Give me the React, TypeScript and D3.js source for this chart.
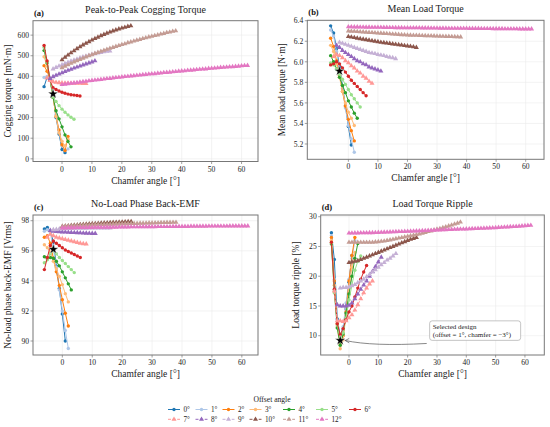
import React from 'react';
import * as d3 from 'd3';

// offset angle of each series, first chamfer angle (1° steps after that)
const offsets = [0, 1, 2, 3, 4, 5, 6, 7, 8, 9, 10, 11, 12];
const chamferStart = [-6, -6, -6, -6, -6, -6, -6, -5, -4, -3, 0, 0, 0];
const colors = [
  '#1f77b4', '#aec7e8', '#ff7f0e', '#ffbb78', '#2ca02c', '#98df8a', '#d62728',
  '#ff9896', '#9467bd', '#c5b0d5', '#8c564b', '#c49c94', '#e377c2',
];
const selectedOffset = 1;
const selectedChamfer = -3;

// (a) peak-to-peak cogging torque [mN·m]
const cogging = [
  [350, 395, 385, 310, 200, 120, 45, 30],
  [395, 400, 388, 315, 215, 130, 62, 40, 48],
  [452, 425, 385, 300, 205, 140, 68, 40, 108],
  [495, 450, 382, 300, 205, 125, 85, 62, 95],
  [525, 465, 385, 298, 233, 194, 155, 116, 84, 58],
  [540, 470, 390, 300, 278, 258, 241, 226, 213, 202, 192],
  [550, 475, 380, 345, 336, 329, 323, 318, 314, 311, 309, 307, 305],
  [392, 380, 374, 371, 369, 368, 367, 367, 366, 366, 366, 366, 365, 365],
  [390, 398, 405, 411, 417, 423, 429, 434, 440, 445, 450, 455, 460, 465, 470, 475],
  [436, 443, 450, 456, 462, 468, 474, 479, 484, 489, 494, 498, 502, 506, 510, 513, 516, 519, 521, 523],
  [480, 492, 503, 514, 524, 534, 543, 552, 560, 568, 576, 583, 590, 597, 603, 609, 615, 620, 625, 630,
    634, 638, 642, 645],
  [442, 449, 456, 463, 470, 476, 482, 488, 494, 500, 505, 511, 516, 521, 526, 531, 536, 540, 545, 549,
    554, 558, 563, 567, 571, 575, 579, 583, 587, 591, 594, 598, 601, 605, 608, 612, 615, 618, 621],
  [360, 362, 364, 366, 368, 370, 372, 374, 376, 378, 380, 382, 383, 385, 387, 389, 390, 392, 394, 395,
    397, 399, 400, 402, 403, 405, 406, 408, 409, 411, 412, 413, 415, 416, 418, 419, 420, 422, 423, 425,
    426, 427, 429, 430, 431, 433, 434, 435, 436, 438, 439, 440, 441, 443, 444, 445, 446, 447, 448, 449,
    451, 452, 453],
];

// (b) mean load torque [N·m]
const meanTorque = [
  [6.35, 6.28, 6.13, 5.95, 5.77, 5.57, 5.37, 5.19],
  [6.31, 6.25, 6.10, 5.91, 5.74, 5.55, 5.38, 5.25, 5.12],
  [6.23, 6.15, 6.01, 5.87, 5.71, 5.57, 5.44, 5.33, 5.23],
  [6.16, 6.10, 5.98, 5.85, 5.71, 5.60, 5.51, 5.45, 5.38],
  [6.06, 6.00, 5.93, 5.85, 5.77, 5.70, 5.62, 5.56, 5.50, 5.45],
  [5.99, 5.97, 5.93, 5.88, 5.83, 5.78, 5.73, 5.68, 5.64, 5.60, 5.56],
  [5.97, 5.98, 6.00, 5.98, 5.94, 5.90, 5.86, 5.82, 5.79, 5.76, 5.73, 5.70, 5.67],
  [6.05, 6.07, 6.06, 6.04, 6.01, 5.99, 5.96, 5.94, 5.91, 5.89, 5.86, 5.84, 5.81, 5.79],
  [6.16, 6.14, 6.11, 6.09, 6.07, 6.05, 6.03, 6.01, 6.00, 5.98, 5.97, 5.95, 5.94, 5.93, 5.92, 5.91],
  [6.19, 6.18, 6.17, 6.16, 6.15, 6.14, 6.13, 6.12, 6.11, 6.10, 6.09, 6.085, 6.08, 6.07, 6.065, 6.06,
    6.05, 6.045, 6.04, 6.03],
  [6.245, 6.24, 6.235, 6.23, 6.225, 6.22, 6.215, 6.21, 6.205, 6.20, 6.195, 6.19, 6.186, 6.182, 6.178,
    6.174, 6.17, 6.166, 6.162, 6.158, 6.154, 6.15, 6.145, 6.14],
  [6.300, 6.298, 6.296, 6.294, 6.292, 6.290, 6.288, 6.286, 6.284, 6.282, 6.280, 6.278, 6.276, 6.274,
    6.272, 6.270, 6.268, 6.266, 6.264, 6.262, 6.260, 6.259, 6.258, 6.257, 6.256, 6.255, 6.254, 6.253,
    6.252, 6.251, 6.250, 6.249, 6.248, 6.247, 6.246, 6.245, 6.244, 6.243, 6.242],
  [6.340, 6.340, 6.339, 6.339, 6.338, 6.338, 6.337, 6.337, 6.336, 6.336, 6.335, 6.335, 6.334, 6.334,
    6.333, 6.333, 6.332, 6.332, 6.332, 6.331, 6.331, 6.331, 6.330, 6.330, 6.330, 6.329, 6.329, 6.329,
    6.328, 6.328, 6.328, 6.327, 6.327, 6.327, 6.326, 6.326, 6.326, 6.325, 6.325, 6.325, 6.325, 6.324,
    6.324, 6.324, 6.324, 6.323, 6.323, 6.323, 6.323, 6.322, 6.322, 6.322, 6.322, 6.321, 6.321, 6.321,
    6.321, 6.321, 6.320, 6.320, 6.320, 6.320, 6.320],
];

// (c) no-load phase back-EMF [Vrms]
const backEmf = [
  [97.45, 97.55, 97.30, 96.60, 95.00, 93.50, 91.80, 90.00],
  [97.30, 97.40, 97.20, 96.10, 94.90, 93.40, 92.00, 90.70, 89.50],
  [96.90, 97.00, 96.50, 95.50, 94.60, 93.70, 92.75, 91.85, 91.00],
  [96.40, 96.20, 95.90, 95.30, 94.80, 94.30, 93.75, 93.15, 92.60],
  [95.60, 95.50, 95.55, 95.50, 95.30, 95.00, 94.60, 94.20, 93.80, 93.40],
  [95.20, 95.40, 95.80, 96.00, 95.80, 95.55, 95.35, 95.15, 94.95, 94.75, 94.55],
  [94.75, 95.55, 96.35, 96.65, 96.50, 96.35, 96.20, 96.05, 95.95, 95.85, 95.75, 95.65, 95.55],
  [96.90, 97.10, 97.00, 96.90, 96.85, 96.80, 96.75, 96.70, 96.65, 96.60, 96.55, 96.50, 96.47, 96.45],
  [97.35, 97.30, 97.28, 97.26, 97.25, 97.24, 97.23, 97.22, 97.21, 97.20, 97.19, 97.18, 97.17, 97.16,
    97.15, 97.15],
  [97.40, 97.42, 97.45, 97.46, 97.47, 97.48, 97.48, 97.49, 97.49, 97.50, 97.50, 97.50, 97.51, 97.51,
    97.51, 97.52, 97.52, 97.52, 97.52, 97.52],
  [97.62, 97.64, 97.66, 97.68, 97.70, 97.72, 97.74, 97.75, 97.77, 97.78, 97.80, 97.81, 97.82, 97.84,
    97.85, 97.86, 97.87, 97.88, 97.89, 97.90, 97.91, 97.92, 97.93, 97.94],
  [97.62, 97.63, 97.64, 97.65, 97.66, 97.67, 97.68, 97.69, 97.70, 97.71, 97.72, 97.73, 97.73, 97.74,
    97.75, 97.76, 97.76, 97.77, 97.78, 97.78, 97.79, 97.80, 97.80, 97.81, 97.82, 97.82, 97.83, 97.83,
    97.84, 97.85, 97.85, 97.86, 97.86, 97.87, 97.87, 97.88, 97.88, 97.89, 97.89],
  [97.52, 97.52, 97.53, 97.53, 97.53, 97.54, 97.54, 97.54, 97.55, 97.55, 97.55, 97.56, 97.56, 97.56,
    97.56, 97.57, 97.57, 97.57, 97.57, 97.58, 97.58, 97.58, 97.58, 97.59, 97.59, 97.59, 97.59, 97.60,
    97.60, 97.60, 97.60, 97.60, 97.61, 97.61, 97.61, 97.61, 97.61, 97.62, 97.62, 97.62, 97.62, 97.62,
    97.62, 97.63, 97.63, 97.63, 97.63, 97.63, 97.63, 97.64, 97.64, 97.64, 97.64, 97.64, 97.64, 97.64,
    97.65, 97.65, 97.65, 97.65, 97.65, 97.65, 97.65],
];

// (d) load torque ripple [%]
const ripple = [
  [27.3, 22.8, 12.8, 10.0, 11.0, 14.5, 19.0, 23.5],
  [26.8, 19.5, 12.5, 9.2, 11.5, 15.5, 19.5, 23.0, 26.0],
  [26.5, 19.2, 12.0, 8.6, 10.0, 14.0, 19.2, 23.5, 26.5],
  [26.0, 18.5, 11.5, 7.8, 9.3, 13.5, 18.0, 21.5, 24.0],
  [25.4, 17.5, 11.3, 8.4, 10.3, 13.8, 17.0, 20.0, 23.0, 25.5],
  [25.6, 17.2, 11.8, 9.5, 10.5, 13.0, 16.0, 18.5, 21.0, 22.5, 23.4],
  [25.7, 17.8, 12.0, 10.2, 11.2, 12.7, 14.0, 15.0, 16.5, 18.0, 19.5, 20.7, 21.8],
  [17.5, 12.5, 12.5, 12.4, 12.5, 13.0, 13.5, 14.3, 15.2, 16.2, 17.2, 18.0, 18.7, 19.2],
  [15.2, 15.0, 15.0, 15.0, 15.1, 15.5, 16.2, 17.0, 17.8, 18.5, 19.2, 20.0, 20.8, 21.6, 22.4, 23.2],
  [18.0, 18.1, 18.1, 18.2, 18.4, 18.6, 18.9, 19.2, 19.5, 19.9, 20.3, 20.7, 21.1, 21.5, 21.9, 22.3,
    22.7, 23.0, 23.4, 23.8],
  [22.3, 22.4, 22.5, 22.6, 22.8, 23.0, 23.2, 23.4, 23.6, 23.8, 24.0, 24.2, 24.4, 24.6, 24.8, 25.0,
    25.2, 25.4, 25.6, 25.8, 26.0, 26.2, 26.35, 26.5],
  [25.7, 25.7, 25.7, 25.7, 25.7, 25.7, 25.7, 25.7, 25.7, 25.75, 25.8, 25.85, 25.9, 26.0, 26.1, 26.2,
    26.3, 26.4, 26.5, 26.6, 26.7, 26.8, 26.9, 27.0, 27.1, 27.2, 27.35, 27.5, 27.6, 27.75, 27.9, 28.0,
    28.15, 28.3, 28.45, 28.6, 28.75, 28.9, 29.1],
  [27.25, 27.25, 27.26, 27.27, 27.28, 27.29, 27.30, 27.31, 27.32, 27.33, 27.35, 27.37, 27.39, 27.41,
    27.43, 27.45, 27.47, 27.49, 27.51, 27.53, 27.55, 27.57, 27.59, 27.61, 27.63, 27.65, 27.67, 27.69,
    27.71, 27.73, 27.75, 27.77, 27.79, 27.81, 27.83, 27.85, 27.87, 27.89, 27.91, 27.93, 27.95, 27.97,
    27.99, 28.01, 28.03, 28.05, 28.07, 28.09, 28.11, 28.13, 28.16, 28.19, 28.22, 28.25, 28.28, 28.31,
    28.34, 28.37, 28.40, 28.44, 28.48, 28.52, 28.56],
];

const xTicks = [0, 10, 20, 30, 40, 50, 60];

const FONT = '"Liberation Serif", "DejaVu Serif", serif';

type Box = { left: number; right: number; top: number; bottom: number };
type PanelDef = {
  tag: string;
  title: string;
  ylabel: string;
  values: number[][];
  box: Box;
  xDomain: [number, number];
  yDomain: [number, number];
  yTicks: number[];
  yFormat: (v: number) => string;
  annotate?: boolean;
};

const panels: PanelDef[] = [
  {
    tag: '(a)', title: 'Peak-to-Peak Cogging Torque', ylabel: 'Cogging torque [mN·m]',
    values: cogging, box: { left: 33, right: 258, top: 20.7, bottom: 161.5 },
    xDomain: [-9.7, 65.5], yDomain: [-13, 670],
    yTicks: [0, 100, 200, 300, 400, 500, 600], yFormat: d3.format('d'),
  },
  {
    tag: '(b)', title: 'Mean Load Torque', ylabel: 'Mean load torque [N·m]',
    values: meanTorque, box: { left: 307.3, right: 544, top: 20.3, bottom: 159.3 },
    xDomain: [-13.9, 66.2], yDomain: [5.051, 6.404],
    yTicks: [5.2, 5.4, 5.6, 5.8, 6.0, 6.2, 6.4], yFormat: d3.format('.1f'),
  },
  {
    tag: '(c)', title: 'No-Load Phase Back-EMF', ylabel: 'No-load phase back-EMF [Vrms]',
    values: backEmf, box: { left: 33, right: 258, top: 215, bottom: 355 },
    xDomain: [-9.8, 65.4], yDomain: [89.07, 98.38],
    yTicks: [90, 92, 94, 96, 98], yFormat: d3.format('d'),
  },
  {
    tag: '(d)', title: 'Load Torque Ripple', ylabel: 'Load torque ripple [%]',
    values: ripple, box: { left: 320.7, right: 544.3, top: 215, bottom: 355 },
    xDomain: [-9.65, 66.6], yDomain: [6.76, 30.29],
    yTicks: [10, 15, 20, 25, 30], yFormat: d3.format('d'),
    annotate: true,
  },
];

const triangle = d3.symbol().type(d3.symbolTriangle).size(11)() || '';
const star = d3.symbol().type(d3.symbolStar).size(32)() || '';

function seriesPoints(values: number[], s: number): [number, number][] {
  return values.map((v, i) => [chamferStart[s] + i, v]);
}

function Marker({ s, x, y }: { s: number; x: number; y: number }) {
  if (s < 7) return <circle cx={x} cy={y} r={1.7} fill={colors[s]} />;
  return <path d={triangle} transform={`translate(${x},${y})`} fill={colors[s]} />;
}

function Panel({ p, idx }: { p: PanelDef; idx: number }) {
  const { box } = p;
  const x = d3.scaleLinear().domain(p.xDomain).range([box.left, box.right]);
  const y = d3.scaleLinear().domain(p.yDomain).range([box.bottom, box.top]);
  const line = d3.line<[number, number]>().x((d) => x(d[0])).y((d) => y(d[1]));
  const cx = (box.left + box.right) / 2;
  const cy = (box.top + box.bottom) / 2;

  const selVal = p.values[selectedOffset][selectedChamfer - chamferStart[selectedOffset]];
  const sx = x(selectedChamfer);
  const sy = y(selVal);

  return (
    <g>
      <defs>
        <clipPath id={`clip-${idx}`}>
          <rect x={box.left} y={box.top} width={box.right - box.left} height={box.bottom - box.top} />
        </clipPath>
      </defs>
      {/* grid */}
      <g stroke="#ebebeb" strokeWidth={0.6}>
        {xTicks.map((t) => (
          <line key={`gx${t}`} x1={x(t)} x2={x(t)} y1={box.top} y2={box.bottom} />
        ))}
        {p.yTicks.map((t) => (
          <line key={`gy${t}`} x1={box.left} x2={box.right} y1={y(t)} y2={y(t)} />
        ))}
      </g>

      {/* series */}
      <g clipPath={`url(#clip-${idx})`}>
        {p.values.map((vals, s) => {
          const pts = seriesPoints(vals, s);
          return (
            <g key={`s${s}`}>
              <path
                d={line(pts) || ''}
                fill="none"
                stroke={colors[s]}
                strokeWidth={1}
                strokeDasharray={s < 7 ? undefined : '3,1.6'}
              />
              {pts.map((d, i) => (
                <Marker key={i} s={s} x={x(d[0])} y={y(d[1])} />
              ))}
            </g>
          );
        })}
        <path d={star} transform={`translate(${sx},${sy})`} fill="#000" stroke="#fff" strokeWidth={0.4} />
      </g>

      {/* frame */}
      <rect x={box.left} y={box.top} width={box.right - box.left} height={box.bottom - box.top}
        fill="none" stroke="#777" strokeWidth={1} />

      {/* ticks */}
      <g fontFamily={FONT} fontSize={7.6} fill="#222">
        {xTicks.map((t) => (
          <g key={`tx${t}`}>
            <line x1={x(t)} x2={x(t)} y1={box.bottom} y2={box.bottom + 2.5} stroke="#777" strokeWidth={0.7} />
            <text x={x(t)} y={box.bottom + 10} textAnchor="middle">{t}</text>
          </g>
        ))}
        {p.yTicks.map((t) => (
          <g key={`ty${t}`}>
            <line x1={box.left - 2.5} x2={box.left} y1={y(t)} y2={y(t)} stroke="#777" strokeWidth={0.7} />
            <text x={box.left - 4} y={y(t) + 2.7} textAnchor="end">{p.yFormat(t)}</text>
          </g>
        ))}
      </g>

      {/* labels */}
      <text x={cx} y={box.top - 8} textAnchor="middle" fontFamily={FONT} fontSize={10} fill="#222">
        {p.title}
      </text>
      <text x={box.left + 1} y={box.top - 5} fontFamily={FONT} fontSize={8.5} fontWeight="bold" fill="#111">
        {p.tag}
      </text>
      <text x={cx} y={box.bottom + 22} textAnchor="middle" fontFamily={FONT} fontSize={9.5} fill="#222">
        Chamfer angle [°]
      </text>
      <text
        transform={`translate(${box.left - 22},${cy}) rotate(-90)`}
        textAnchor="middle" fontFamily={FONT} fontSize={9.5} fill="#222"
      >
        {p.ylabel}
      </text>

      {p.annotate && (
        <g>
          <path
            d={`M ${x(26.5)} ${sy + 3} Q ${x(8)} ${sy + 6} ${sx + 5} ${sy}`}
            fill="none" stroke="#555" strokeWidth={0.7}
          />
          <path d={`M ${sx + 9} ${sy - 2} L ${sx + 5} ${sy} L ${sx + 9} ${sy + 2.3}`} fill="none" stroke="#555" strokeWidth={0.7} />
          <rect x={x(27.5)} y={y(12.5)} width={91} height={19.5} rx={2.5}
            fill="#fff" stroke="#aaa" strokeWidth={0.7} />
          <text x={x(27.5) + 3} y={y(12.5) + 8} fontFamily={FONT} fontSize={7} fill="#222">Selected design</text>
          <text x={x(27.5) + 3} y={y(12.5) + 16.5} fontFamily={FONT} fontSize={7} fill="#222">
            (offset = 1°, chamfer = −3°)
          </text>
        </g>
      )}
    </g>
  );
}

// legend column starts (handle left edge), two rows of 7 and 6 items
const legendCols = [168, 195.5, 222.5, 249.5, 283, 316, 349];

function Legend() {
  const rows = [offsets.slice(0, 7), offsets.slice(7)];
  return (
    <g fontFamily={FONT} fill="#222">
      <text x={272} y={402} textAnchor="middle" fontSize={7.6}>Offset angle</text>
      {rows.map((row, r) =>
        row.map((o, c) => {
          const x0 = legendCols[c];
          const yy = 409.5 + r * 9.8;
          return (
            <g key={`l${o}`}>
              <line x1={x0} x2={x0 + 12} y1={yy} y2={yy} stroke={colors[o]} strokeWidth={1}
                strokeDasharray={o < 7 ? undefined : '3,1.6'} />
              <Marker s={o} x={x0 + 6} y={yy} />
              <text x={x0 + 15.5} y={yy + 2.5} fontSize={7.2}>{`${o}°`}</text>
            </g>
          );
        }),
      )}
    </g>
  );
}

export default function App() {
  return (
    <div style={{ position: 'absolute', left: 0, top: 0, width: 550, height: 427, background: '#fff' }}>
      <svg width={550} height={427} viewBox="0 0 550 427" style={{ display: 'block' }}>
        <rect width={550} height={427} fill="#fff" />
        {panels.map((p, i) => (
          <Panel key={p.tag} p={p} idx={i} />
        ))}
        <Legend />
      </svg>
    </div>
  );
}
